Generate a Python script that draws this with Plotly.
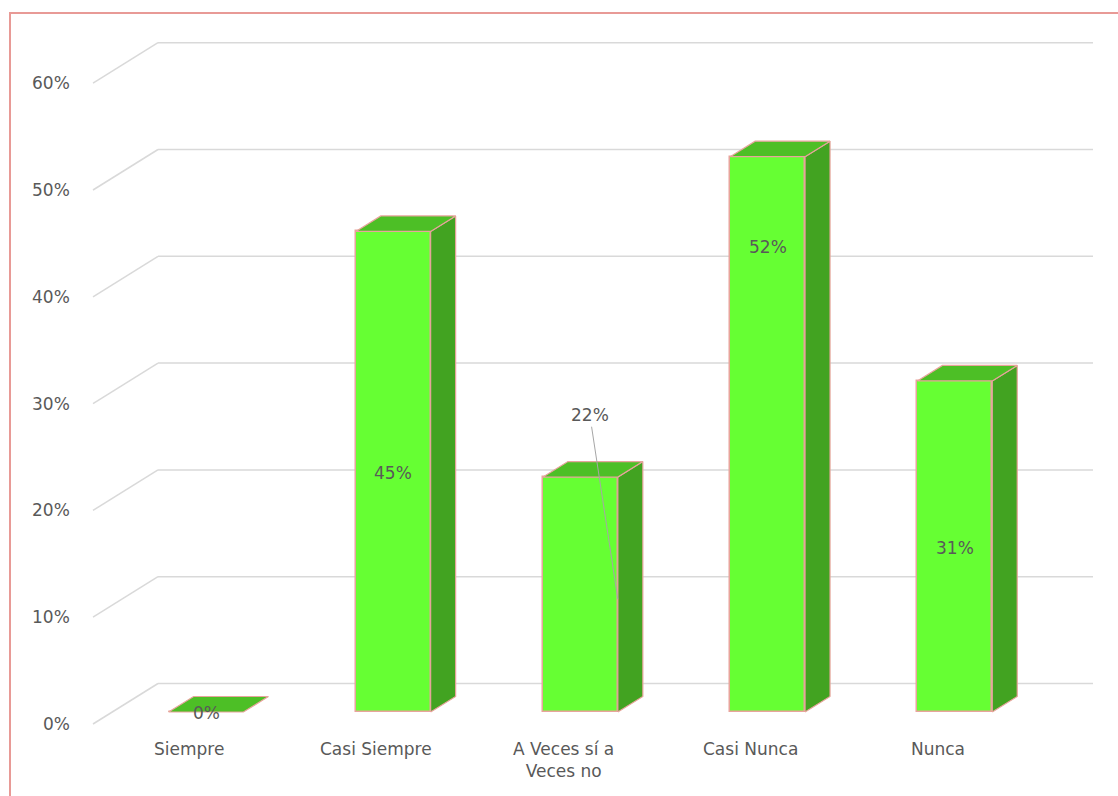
import plotly.graph_objects as go

# ---- data ----
categories = ["Siempre", "Casi Siempre", "A Veces sí a<br>Veces no", "Casi Nunca", "Nunca"]
values = [0, 45, 22, 52, 31]
value_labels = ["0%", "45%", "22%", "52%", "31%"]
tick_values = [0, 10, 20, 30, 40, 50, 60]
tick_labels = ["0%", "10%", "20%", "30%", "40%", "50%", "60%"]
label_frac = [0.0, 0.5, None, 0.84, 0.5]   # where the value label sits on each bar

# ---- styling / geometry constants (in axis units) ----
PX_X = 187.2          # pixels per category
PX_Y = 10.68          # pixels per percent
BAR_W = 0.40
DX = 25 / PX_X        # bar depth (x)
DY = 15.5 / PX_Y      # bar depth (y)
FRONT_X = (93 - 206) / PX_X
FRONT_DY = -12 / PX_Y
BACK_X0 = (158 - 206) / PX_X
BACK_X1 = (1093 - 206) / PX_X
BACK_DY = 28.5 / PX_Y

FRONT = "#66FF33"
TOP = "#4DBF26"
SIDE = "#42A321"
EDGE = "#E8A49C"
GRID = "#D9D9D9"
TXT = "#595959"
FONT = "DejaVu Sans"

xs = list(range(len(categories)))

fig = go.Figure()

shapes = []
# gridlines (front diagonal + back wall), drawn below the bars
for v in tick_values:
    shapes.append(dict(type="line", xref="x", yref="y", layer="below",
                       x0=FRONT_X, y0=v + FRONT_DY, x1=BACK_X0, y1=v + BACK_DY,
                       line=dict(color=GRID, width=1.5)))
    shapes.append(dict(type="line", xref="x", yref="y", layer="below",
                       x0=BACK_X0, y0=v + BACK_DY, x1=BACK_X1, y1=v + BACK_DY,
                       line=dict(color=GRID, width=1.5)))

# chart border
shapes.append(dict(type="rect", xref="paper", yref="paper",
                   x0=10 / 1118, x1=1.02, y0=-0.02, y1=1 - 13 / 796,
                   line=dict(color="#E89A96", width=2), fillcolor="rgba(0,0,0,0)"))

# front faces
fig.add_trace(go.Bar(
    x=xs, y=values, width=BAR_W,
    marker=dict(color=FRONT, line=dict(color=EDGE, width=1.5)),
    hoverinfo="skip", showlegend=False))

# side and top faces
for i, v in zip(xs, values):
    r = i + BAR_W / 2
    l = i - BAR_W / 2
    if v > 0:
        fig.add_trace(go.Scatter(
            x=[r, r, r + DX, r + DX, r], y=[0, v, v + DY, DY, 0],
            mode="lines", fill="toself", fillcolor=SIDE,
            line=dict(color=EDGE, width=1.2),
            hoverinfo="skip", showlegend=False))
    fig.add_trace(go.Scatter(
        x=[l, r, r + DX, l + DX, l], y=[v, v, v + DY, v + DY, v],
        mode="lines", fill="toself", fillcolor=TOP,
        line=dict(color=EDGE, width=1.2),
        hoverinfo="skip", showlegend=False))

annotations = []
# y tick labels
for v, t in zip(tick_values, tick_labels):
    annotations.append(dict(
        x=FRONT_X - 21 / PX_X, y=v + FRONT_DY, text=t, showarrow=False,
        xanchor="right", yanchor="middle", font=dict(family=FONT, size=17, color=TXT)))

# category labels
for i, c in zip(xs, categories):
    annotations.append(dict(
        x=i - 17 / PX_X, y=-25 / PX_Y, text=c, showarrow=False,
        xanchor="center", yanchor="top", font=dict(family=FONT, size=17, color=TXT)))

# value labels
for i, v, t, f in zip(xs, values, value_labels, label_frac):
    if f is None:
        annotations.append(dict(
            x=i + BAR_W / 2, y=v * 0.48, text=t, showarrow=True,
            ax=-28, ay=-184, arrowhead=0, arrowwidth=1, arrowcolor="#A6A6A6",
            standoff=0, font=dict(family=FONT, size=17, color=TXT)))
    else:
        annotations.append(dict(
            x=i, y=v * f - 0.1, text=t, showarrow=False,
            xanchor="center", yanchor="middle", font=dict(family=FONT, size=17, color=TXT)))

fig.update_layout(
    width=1118, height=796,
    margin=dict(l=0, r=0, t=0, b=0),
    paper_bgcolor="white", plot_bgcolor="white",
    xaxis=dict(visible=False, range=[-206 / PX_X, (1118 - 206) / PX_X], fixedrange=True),
    yaxis=dict(visible=False, range=[-(796 - 712) / PX_Y, 712 / PX_Y], fixedrange=True),
    annotations=annotations,
    shapes=shapes,
    bargap=0,
)

fig.write_html("out.html")
